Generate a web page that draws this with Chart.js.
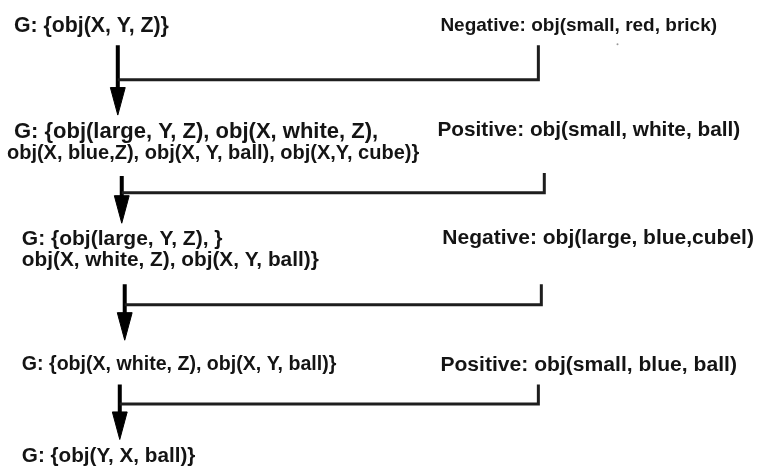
<!DOCTYPE html>
<html>
<head>
<meta charset="utf-8">
<script src="https://cdn.jsdelivr.net/npm/chart.js@4.4.1/dist/chart.umd.min.js"></script>
<style>
  html, body { margin: 0; padding: 0; background: #fff; }
  #wrap { width: 766px; height: 471px; }
</style>
</head>
<body>
<div id="wrap"><canvas id="flowChart" width="766" height="471"></canvas></div>
<script>
// hypothesis set G after each training example
const hypotheses = [
    ['G: {obj(X, Y, Z)}'],
    ['G: {obj(large, Y, Z), obj(X, white, Z),', 'obj(X, blue,Z), obj(X, Y, ball), obj(X,Y, cube)}'],
    ['G: {obj(large, Y, Z), }', 'obj(X, white, Z), obj(X, Y, ball)}'],
    ['G: {obj(X, white, Z), obj(X, Y, ball)}'],
    ['G: {obj(Y, X, ball)}']
];
// training examples presented between the steps
const examples = [
    'Negative: obj(small, red, brick)',
    'Positive: obj(small, white, ball)',
    'Negative: obj(large, blue,cubel)',
    'Positive: obj(small, blue, ball)'
];

// layout (axis units = pixels of the 766x471 picture)
const hypLineX = [[10], [10, 3], [18, 18], [18], [18]];
const hypLineY = [[22], [130, 152], [239, 261], [367], [460]];
const hypFont = [[21.3], [22, 20], [21, 20.8], [19.6], [20.7]];
const exampleX = [441, 438, 443, 441];
const exampleY = [22, 128, 238, 367];
const exampleFont = [19, 20.8, 21, 21.1];
const shaftX = [115, 119, 122, 117];
const shaftTop = [42, 175, 285, 387];
const joinY = [77, 192, 306, 407];
const tipY = [113, 223, 342, 443];
const rightX = [540, 546, 543, 540];
const rightTop = [42, 172, 285, 387];
const headLen = 28;
const headHalf = 7.5;

const datasets = [];
examples.forEach(function(ex, i) {
    // connector from the example back to the arrow
    datasets.push({
        data: [{x: shaftX[i], y: joinY[i]}, {x: rightX[i], y: joinY[i]}, {x: rightX[i], y: rightTop[i]}],
        showLine: true, borderColor: '#1e1e1e', borderWidth: 3, pointRadius: 0,
        borderJoinStyle: 'miter', tension: 0
    });
    // arrow shaft
    datasets.push({
        data: [{x: shaftX[i], y: shaftTop[i]}, {x: shaftX[i], y: tipY[i] - headLen + 2}],
        showLine: true, borderColor: '#000', borderWidth: 4, pointRadius: 0,
        borderCapStyle: 'butt', tension: 0
    });
    // arrow head
    const top = tipY[i] - headLen;
    datasets.push({
        data: [{x: shaftX[i] - headHalf, y: top}, {x: shaftX[i] + headHalf, y: top},
               {x: shaftX[i], y: tipY[i]}, {x: shaftX[i] - headHalf, y: top}],
        showLine: true, fill: 'shape', backgroundColor: '#000', borderColor: '#000',
        borderWidth: 1, pointRadius: 0, tension: 0
    });
});
// stray speck under the first example
datasets.push({ data: [{x: 620, y: 41}], pointRadius: 1, backgroundColor: '#999', borderWidth: 0 });

const textPlugin = {
    id: 'flowText',
    afterDatasetsDraw: function(chart) {
        const c = chart.ctx;
        const xs = chart.scales.x, ys = chart.scales.y;
        c.save();
        c.fillStyle = '#141414';
        c.textBaseline = 'middle';
        c.textAlign = 'left';
        hypotheses.forEach(function(lines, i) {
            lines.forEach(function(t, j) {
                const size = hypFont[i][j] || hypFont[i][0];
                c.font = 'bold ' + size + 'px "Liberation Sans", Arial, sans-serif';
                c.fillText(t, xs.getPixelForValue(hypLineX[i][j]), ys.getPixelForValue(hypLineY[i][j]));
            });
        });
        examples.forEach(function(t, i) {
            c.font = 'bold ' + exampleFont[i] + 'px "Liberation Sans", Arial, sans-serif';
            c.fillText(t, xs.getPixelForValue(exampleX[i]), ys.getPixelForValue(exampleY[i]));
        });
        c.restore();
    }
};

new Chart(document.getElementById('flowChart').getContext('2d'), {
    type: 'scatter',
    data: { datasets: datasets },
    options: {
        responsive: false,
        animation: false,
        layout: { padding: 0 },
        scales: {
            x: { type: 'linear', min: 0, max: 766, display: false },
            y: { type: 'linear', min: 0, max: 471, reverse: true, display: false }
        },
        plugins: { legend: { display: false }, tooltip: { enabled: false } }
    },
    plugins: [textPlugin]
});
</script>
</body>
</html>
